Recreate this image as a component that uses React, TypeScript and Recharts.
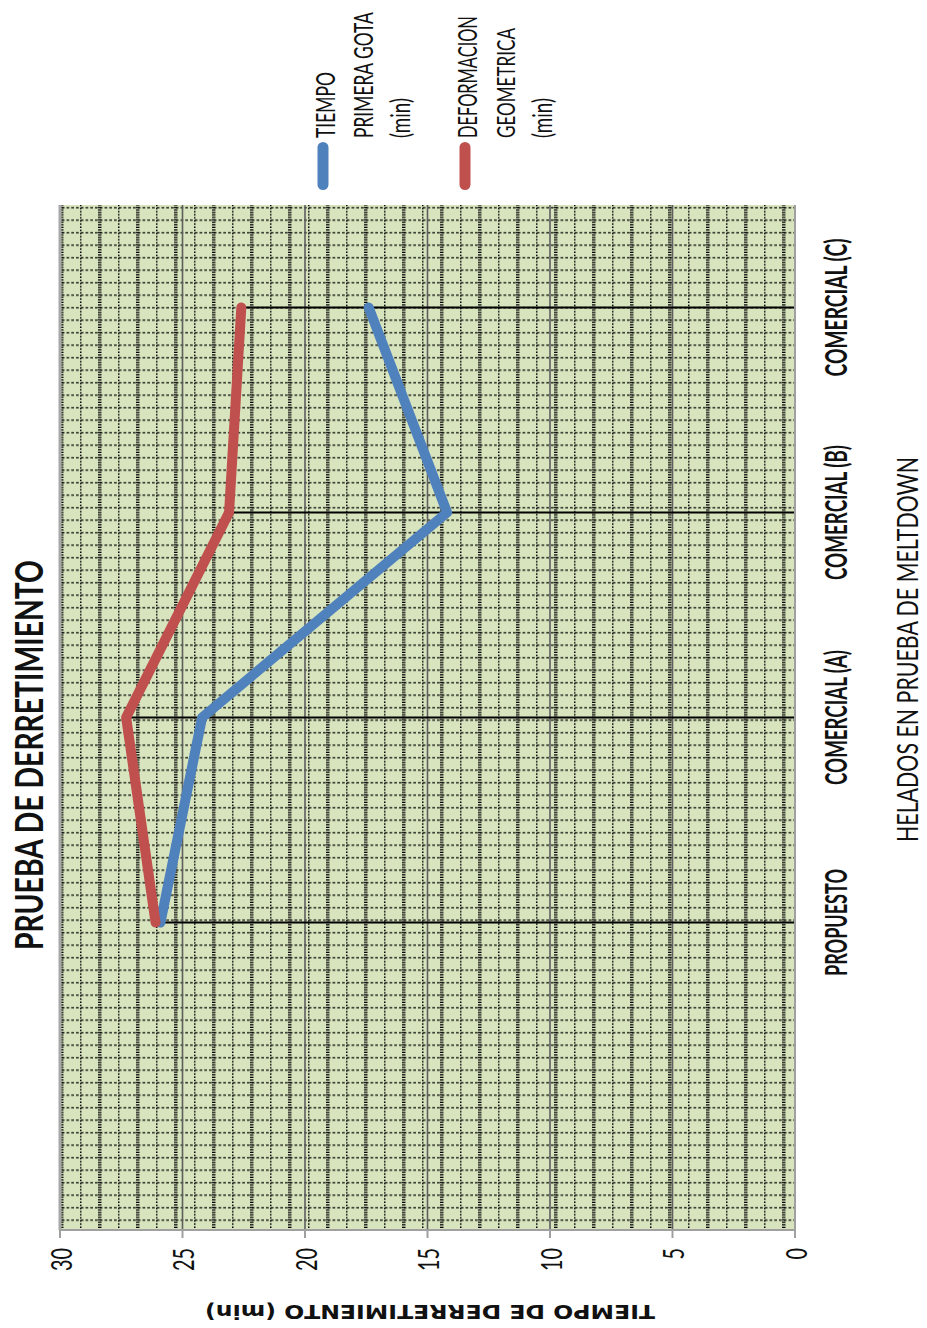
import { useLayoutEffect, useRef, useState } from "react";
import {
  LineChart,
  Line,
  XAxis,
  YAxis,
  CartesianGrid,
  ReferenceLine,
} from "recharts";

const categories = ["PROPUESTO", "COMERCIAL (A)", "COMERCIAL (B)", "COMERCIAL (C)"];
const primeraGota = [25.9, 24.2, 14.2, 17.4];
const deformacion = [26.1, 27.3, 23.1, 22.6];
const valueTicks = [0, 5, 10, 15, 20, 25, 30];

const gotaLegend = ["TIEMPO", "PRIMERA GOTA", "(min)"];
const deformLegend = ["DEFORMACION", "GEOMETRICA", "(min)"];

const TITLE = "PRUEBA DE DERRETIMIENTO";
const X_TITLE = "HELADOS EN PRUEBA DE MELTDOWN";
const Y_TITLE = "TIEMPO DE DERRETIMIENTO (min)";

const BLUE = "#4f81bd";
const RED = "#c0504d";
const FONT = "Lato, 'Open Sans', sans-serif";

// chart is laid out landscape, then turned on its side
const W = 1328;
const H = 927;

// narrow-font widths for the labels
const textWidth: Record<string, number> = {
  PROPUESTO: 107,
  "COMERCIAL (A)": 135,
  "COMERCIAL (B)": 135,
  "COMERCIAL (C)": 138,
  [TITLE]: 390,
  [X_TITLE]: 385,
  [Y_TITLE]: 450,
  TIEMPO: 66,
  "PRIMERA GOTA": 126,
  "(min)": 40,
  DEFORMACION: 122,
  GEOMETRICA: 110,
};

const rows = categories.map((name, i) => ({
  name,
  gota: primeraGota[i],
  deform: deformacion[i],
}));

// text squeezed horizontally to a given width
function NarrowText({ x, y, width, text, ...rest }: any) {
  const ref = useRef<SVGTextElement>(null);
  const [sx, setSx] = useState(1);
  useLayoutEffect(() => {
    if (ref.current) {
      const natural = ref.current.getComputedTextLength();
      if (natural > 0) setSx(width / natural);
    }
  }, [width, text]);
  return (
    <text ref={ref} transform={`translate(${x} ${y}) scale(${sx} 1)`} {...rest}>
      {text}
    </text>
  );
}

function ValueTick({ x, y, payload }: any) {
  const s = String(payload.value);
  return (
    <text
      x={x}
      y={y}
      textAnchor="end"
      dominantBaseline="central"
      fontFamily={FONT}
      fontSize={29}
      fill="#111"
      textLength={s.length * 11.5}
      lengthAdjust="spacingAndGlyphs"
    >
      {s}
    </text>
  );
}

function CategoryTick({ x, y, payload }: any) {
  const s = String(payload.value);
  return (
    <text
      x={x}
      y={y + 52}
      textAnchor="middle"
      fontFamily={FONT}
      fontWeight={700}
      fontSize={30}
      fill="#111"
      textLength={textWidth[s]}
      lengthAdjust="spacingAndGlyphs"
    >
      {s}
    </text>
  );
}

function XTitle({ viewBox }: any) {
  const cx = viewBox.x + viewBox.width / 2 + 68;
  return (
    <text
      x={cx}
      y={viewBox.y + 123}
      textAnchor="middle"
      fontFamily={FONT}
      fontSize={29}
      fill="#111"
      textLength={textWidth[X_TITLE]}
      lengthAdjust="spacingAndGlyphs"
    >
      {X_TITLE}
    </text>
  );
}

function YTitle({ viewBox }: any) {
  const cx = 23;
  const cy = viewBox.y + viewBox.height / 2 + 2.5;
  return (
    <text
      x={cx}
      y={cy}
      transform={`rotate(-90 ${cx} ${cy})`}
      textAnchor="middle"
      fontFamily="'DejaVu Sans', sans-serif"
      fontWeight={700}
      fontSize={20}
      fill="#111"
      textLength={textWidth[Y_TITLE]}
      lengthAdjust="spacingAndGlyphs"
    >
      {Y_TITLE}
    </text>
  );
}

function LegendItem({ lines, color, top }: { lines: string[]; color: string; top: number }) {
  return (
    <g>
      <line x1={1143.5} x2={1180.5} y1={top - 12} y2={top - 12} stroke={color} strokeWidth={11} strokeLinecap="round" />
      {lines.map((l, i) => (
        <NarrowText
          key={l + i}
          x={1190}
          y={top + i * 37.5}
          width={textWidth[l]}
          text={l}
          fontFamily={FONT}
          fontSize={26}
          fill="#111"
        />
      ))}
    </g>
  );
}

export default function App() {
  return (
    <div style={{ position: "absolute", left: 0, top: 0, width: 927, height: 1328, overflow: "hidden", background: "#fff" }}>
      <div
        style={{
          position: "absolute",
          left: 0,
          top: 0,
          width: W,
          height: H,
          transform: `translateY(${W}px) rotate(-90deg)`,
          transformOrigin: "0 0",
        }}
      >
        {/* dotted graph-paper fill for the plot area */}
        <svg width={0} height={0} style={{ position: "absolute" }}>
          <defs>
            <pattern id="paper" patternUnits="userSpaceOnUse" width={12.5} height={38}>
              <rect width={12.5} height={38} fill="#d7e4bd" />
              <line x1={0} x2={12.5} y1={4.7} y2={4.7} stroke="#000" strokeWidth={1.6} strokeDasharray="1.5 1.625" />
              <line x1={0} x2={12.5} y1={23.7} y2={23.7} stroke="#000" strokeWidth={3.5} strokeDasharray="1.25 1.25" />
              <line x1={7.8} x2={7.8} y1={0} y2={38} stroke="#000" strokeWidth={1.2} strokeDasharray="2.75 2" />
            </pattern>
          </defs>
        </svg>

        <LineChart
          width={W}
          height={H}
          data={rows}
          margin={{ top: 60, right: 205, bottom: 0, left: 0 }}
          style={{ fontFamily: FONT }}
        >
          <CartesianGrid fill="url(#paper)" fillOpacity={1} vertical={false} stroke="#5e5e5e" strokeWidth={1.6} />
          <XAxis
            dataKey="name"
            type="category"
            scale="point"
            padding={{ left: 307.5, right: 102.5 }}
            height={132}
            interval={0}
            tickLine={false}
            tickSize={0}
            tickMargin={0}
            axisLine={{ stroke: "#a0a0a0", strokeWidth: 2 }}
            tick={<CategoryTick />}
            label={{ content: <XTitle /> }}
          />
          <YAxis
            type="number"
            domain={[0, 30]}
            ticks={valueTicks}
            interval={0}
            width={98}
            tickSize={8}
            tickMargin={10}
            tickLine={{ stroke: "#a0a0a0", strokeWidth: 2 }}
            axisLine={{ stroke: "#a0a0a0", strokeWidth: 2 }}
            tick={<ValueTick />}
            label={{ content: <YTitle /> }}
          />
          <ReferenceLine y={30} stroke="#a8a8a8" strokeWidth={3} />
          {rows.map((r) => (
            <ReferenceLine
              key={r.name}
              segment={[
                { x: r.name, y: 0 },
                { x: r.name, y: Math.max(r.gota, r.deform) },
              ]}
              stroke="#000"
              strokeWidth={2}
            />
          ))}
          <Line
            type="linear"
            dataKey="gota"
            name="TIEMPO PRIMERA GOTA (min)"
            stroke={BLUE}
            strokeWidth={10}
            strokeLinecap="round"
            strokeLinejoin="round"
            dot={false}
            isAnimationActive={false}
          />
          <Line
            type="linear"
            dataKey="deform"
            name="DEFORMACION GEOMETRICA (min)"
            stroke={RED}
            strokeWidth={10}
            strokeLinecap="round"
            strokeLinejoin="round"
            dot={false}
            isAnimationActive={false}
          />
        </LineChart>

        {/* title and legend */}
        <svg width={W} height={H} style={{ position: "absolute", left: 0, top: 0, pointerEvents: "none" }}>
          <text
            x={573}
            y={43}
            textAnchor="middle"
            fontFamily={FONT}
            fontWeight={700}
            fontSize={39}
            fill="#111"
            textLength={textWidth[TITLE]}
            lengthAdjust="spacingAndGlyphs"
          >
            {TITLE}
          </text>
          <LegendItem lines={gotaLegend} color={BLUE} top={335} />
          <LegendItem lines={deformLegend} color={RED} top={477} />
        </svg>
      </div>
    </div>
  );
}
